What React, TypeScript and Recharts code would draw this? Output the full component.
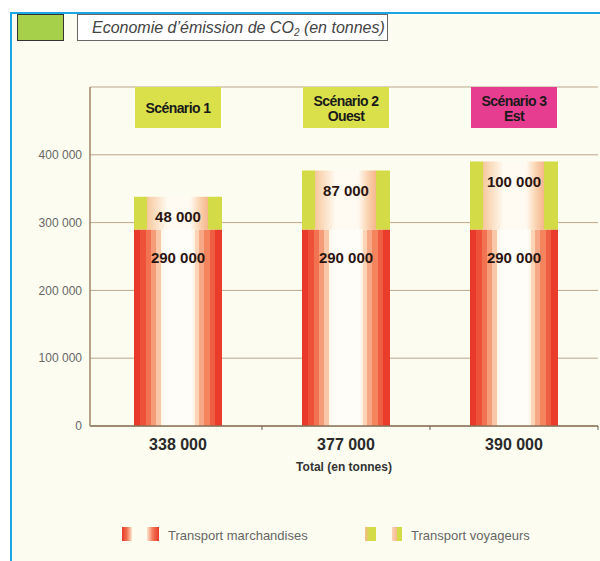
import React from 'react';
import { BarChart, Bar, XAxis, YAxis, CartesianGrid, LabelList } from 'recharts';

const scenarioLine1 = ['Scénario 1', 'Scénario 2', 'Scénario 3'];
const scenarioLine2 = ['', 'Ouest', 'Est'];
const scenarioColors = ['#d9e04a', '#d9e04a', '#e63d90'];
const marchandises = [290000, 290000, 290000];
const voyageurs = [48000, 87000, 100000];
const yTicks = [0, 100000, 200000, 300000, 400000, 500000];

const data = scenarioLine1.map((name, i) => ({
  name,
  line2: scenarioLine2[i],
  color: scenarioColors[i],
  marchandises: marchandises[i],
  voyageurs: voyageurs[i],
  total: marchandises[i] + voyageurs[i],
}));

const FONT = '"Liberation Sans", Arial, sans-serif';
const PLOT_TOP = 87;
const PLOT_BOTTOM = 426;
const BAND = 168;

const fmt = (v: number) => String(v).replace(/\B(?=(\d{3})+(?!\d))/g, ' ');

// scenario header box, drawn from the bar's own x position
const ScenarioBox = (props: any) => {
  const { x, width, value } = props;
  const d = data.find((r) => r.name === value);
  if (!d) return null;
  const cx = x + width / 2;
  const w = 86;
  const txt = (t: string, y: number) => (
    <text x={cx} y={y} textAnchor="middle" dominantBaseline="central" fontFamily={FONT} fontWeight="bold" fontSize={14} letterSpacing={-0.6} fill="#1a1a1a">{t}</text>
  );
  return (
    <g>
      <rect x={cx - w / 2} y={PLOT_TOP} width={w} height={41} fill={d.color} />
      {d.line2 ? (
        <>
          {txt(d.name, PLOT_TOP + 14)}
          {txt(d.line2, PLOT_TOP + 29)}
        </>
      ) : (
        txt(d.name, PLOT_TOP + 21)
      )}
    </g>
  );
};

const TotalTick = (props: any) => {
  const { x, payload } = props;
  return (
    <g>
      <text x={x} y={PLOT_BOTTOM + 18} textAnchor="middle" dominantBaseline="central" fontFamily={FONT} fontWeight="bold" fontSize={16} fill="#2a2a2a">
        {fmt(payload.value)}
      </text>
      <line x1={x + BAND / 2} x2={x + BAND / 2} y1={PLOT_BOTTOM} y2={PLOT_BOTTOM + 4} stroke="#6a5a4a" strokeWidth={1} />
    </g>
  );
};

const ValueLabel = (offset: number) => (props: any) => {
  const { x, y, width, value } = props;
  return (
    <text x={x + width / 2} y={y + offset} textAnchor="middle" dominantBaseline="central" fontFamily={FONT} fontWeight="bold" fontSize={15} fill="#2b1510">
      {fmt(value)}
    </text>
  );
};

const redStops: [number, string][] = [
  [0, '#e8392a'], [0.07, '#e8392a'], [0.07, '#ee5038'], [0.135, '#ee5038'], [0.135, '#f27352'], [0.19, '#f27352'],
  [0.19, '#f69c78'], [0.25, '#f69c78'], [0.25, '#fac8a6'], [0.31, '#fac8a6'], [0.31, '#fff6ea'], [0.36, '#fffdf8'],
  [0.66, '#fffdf8'], [0.69, '#fff2e2'], [0.69, '#fbd4b6'], [0.74, '#fbd4b6'], [0.74, '#f7a886'], [0.8, '#f7a886'],
  [0.8, '#f3845e'], [0.86, '#f3845e'], [0.86, '#ef5e40'], [0.92, '#ef5e40'], [0.92, '#e93c2a'], [1, '#e93c2a'],
];
const greenStops: [number, string][] = [
  [0, '#d3dc46'], [0.15, '#d3dc46'], [0.15, '#f5c89e'], [0.22, '#f9d8b8'], [0.3, '#fde9d4'], [0.38, '#fffaf2'],
  [0.64, '#fffaf2'], [0.7, '#fde4cc'], [0.78, '#f8c8a2'], [0.84, '#f5b88e'], [0.84, '#d3dc46'], [1, '#d3dc46'],
];

export default function App() {
  return (
    <div style={{ position: 'absolute', left: 0, top: 0, width: 600, height: 561, background: '#ffffff', overflow: 'hidden' }}>
      <div style={{ position: 'absolute', left: 12, top: 14, width: 588, height: 547, background: '#fcfdf0' }} />
      <div style={{ position: 'absolute', left: 10, top: 12, width: 590, height: 2, background: '#1ea5e3' }} />
      <div style={{ position: 'absolute', left: 10, top: 12, width: 2, height: 549, background: '#1ea5e3' }} />

      <div style={{ position: 'absolute', left: 17, top: 14, width: 45, height: 25, background: '#a6cf4a', border: '1px solid #333' }} />
      <div
        style={{
          position: 'absolute', left: 77, top: 14, width: 295, height: 25, background: '#ffffff', border: '1px solid #666',
          fontFamily: FONT, fontStyle: 'italic', fontSize: 16, color: '#444', lineHeight: '25px', paddingLeft: 14, boxSizing: 'content-box',
          whiteSpace: 'nowrap',
        }}
      >
        Economie d’émission de CO<sub style={{ fontSize: 10, verticalAlign: -3, lineHeight: 0 }}>2</sub> (en tonnes)
      </div>

      <div style={{ position: 'absolute', left: 0, top: 0 }}>
        <BarChart width={600} height={561} data={data} margin={{ top: PLOT_TOP, right: 2, left: 10, bottom: 85 }} barSize={88}>
          <defs>
            <linearGradient id="gRed" x1="0" y1="0" x2="1" y2="0">
              {redStops.map(([o, c], i) => <stop key={i} offset={o} stopColor={c} />)}
            </linearGradient>
            <linearGradient id="gGreen" x1="0" y1="0" x2="1" y2="0">
              {greenStops.map(([o, c], i) => <stop key={i} offset={o} stopColor={c} />)}
            </linearGradient>
          </defs>
          <CartesianGrid vertical={false} stroke="#bba68c" strokeWidth={1} />
          <XAxis
            dataKey="total"
            height={50}
            padding={{ left: 4, right: 0 }}
            axisLine={{ stroke: '#8a7058', strokeWidth: 1.5 }}
            tickLine={false}
            tick={<TotalTick />}
            interval={0}
            label={{ value: 'Total (en tonnes)', position: 'insideBottom', offset: 5, fill: '#333', fontSize: 12, fontWeight: 'bold', fontFamily: FONT }}
          />
          <YAxis
            width={80}
            domain={[0, 500000]}
            ticks={yTicks}
            interval={0}
            axisLine={{ stroke: '#a08468', strokeWidth: 1.5 }}
            tickLine={false}
            tickFormatter={(v: number) => (v === 500000 ? '' : fmt(v))}
            tick={{ fill: '#666', fontSize: 12, fontFamily: FONT }}
          />
          <Bar dataKey="marchandises" stackId="a" fill="url(#gRed)" isAnimationActive={false}>
            <LabelList dataKey="marchandises" content={ValueLabel(28)} />
          </Bar>
          <Bar dataKey="voyageurs" stackId="a" fill="url(#gGreen)" isAnimationActive={false}>
            <LabelList dataKey="voyageurs" content={ValueLabel(20)} />
            <LabelList dataKey="name" content={ScenarioBox} />
          </Bar>
        </BarChart>
      </div>

      <svg width={600} height={561} style={{ position: 'absolute', left: 0, top: 0, pointerEvents: 'none' }}>
        <defs>
          <linearGradient id="lr1" x1="0" y1="0" x2="1" y2="0">
            <stop offset="0" stopColor="#e8392a" /><stop offset="0.5" stopColor="#f27352" /><stop offset="1" stopColor="#fde4cc" />
          </linearGradient>
          <linearGradient id="lr2" x1="1" y1="0" x2="0" y2="0">
            <stop offset="0" stopColor="#e8392a" /><stop offset="0.5" stopColor="#f27352" /><stop offset="1" stopColor="#fde4cc" />
          </linearGradient>
          <linearGradient id="lg1" x1="0" y1="0" x2="1" y2="0">
            <stop offset="0" stopColor="#f5b88e" /><stop offset="0.4" stopColor="#d3dc46" /><stop offset="1" stopColor="#d3dc46" />
          </linearGradient>
          <linearGradient id="lg2" x1="0" y1="0" x2="1" y2="0">
            <stop offset="0" stopColor="#fbd4b6" /><stop offset="0.5" stopColor="#f5b88e" /><stop offset="0.55" stopColor="#d3dc46" /><stop offset="1" stopColor="#d3dc46" />
          </linearGradient>
        </defs>
        <rect x={122} y={527} width={10} height={14} fill="url(#lr1)" />
        <rect x={147} y={527} width={12} height={14} fill="url(#lr2)" />
        <text x={168} y={535} dominantBaseline="central" fontFamily={FONT} fontSize={13} fill="#666">Transport marchandises</text>
        <rect x={365} y={527} width={11} height={14} fill="url(#lg1)" />
        <rect x={392} y={527} width={10} height={14} fill="url(#lg2)" />
        <text x={411} y={535} dominantBaseline="central" fontFamily={FONT} fontSize={13} fill="#666">Transport voyageurs</text>
      </svg>
    </div>
  );
}
